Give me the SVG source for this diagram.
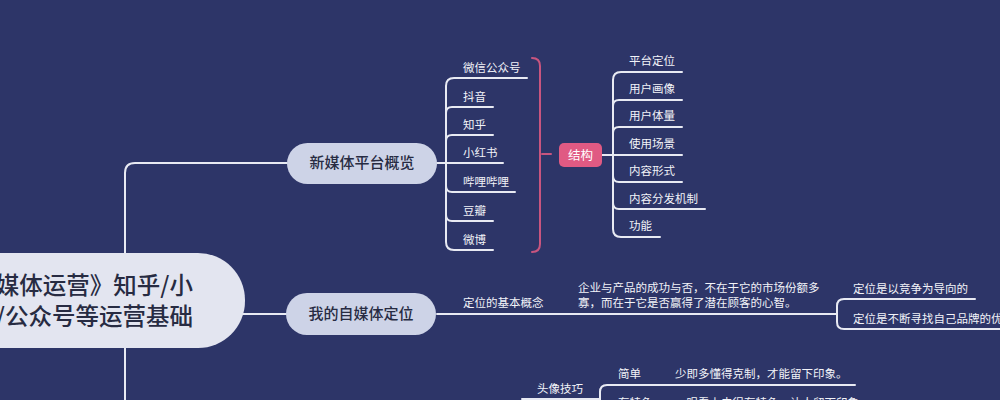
<svg xmlns="http://www.w3.org/2000/svg" width="1000" height="400" viewBox="0 0 1000 400">
<style>
.bg{fill:#2d3568}
.ln{fill:none;stroke:#e8eaf3;stroke-width:2;stroke-linecap:round}
.pk{fill:none;stroke:#c9557f;stroke-width:2;stroke-linecap:round}
.t{font-family:"Noto Sans CJK SC","Noto Sans",sans-serif;font-size:11.5px;fill:#f2f3f8}
.n1{fill:#cdd3e7}
.n1t{font-family:"Noto Sans CJK SC","Noto Sans",sans-serif;font-size:15px;fill:#272b42;text-anchor:middle;font-weight:500}
.rt{font-family:"Noto Sans CJK SC","Noto Sans",sans-serif;font-size:23.5px;fill:#272b42;text-anchor:end;font-weight:500}
</style>
<rect class="bg" x="0" y="0" width="1000" height="400"/>
<g id="connectors">
<path class="ln" d="M125,401 V173 Q125,163 135,163 H287"/>
<path class="ln" d="M240,314 H287"/>
<path class="ln" d="M437,163 H446"/>
<path class="ln" d="M446,163 V86 Q446,78 454,78 H527"/>
<path class="ln" d="M446,163 V113 Q446,107 452,107 H493"/>
<path class="ln" d="M446,163 V141 Q446,135 452,135 H493"/>
<path class="ln" d="M446,163 H503"/>
<path class="ln" d="M446,163 V186 Q446,192 452,192 H515"/>
<path class="ln" d="M446,163 V215 Q446,221 452,221 H493"/>
<path class="ln" d="M446,163 V242 Q446,250 454,250 H493"/>
<path class="pk" d="M532,58 Q540,58 540,66 V244 Q540,252 532,252"/>
<path class="pk" d="M542,154 H551"/>
<path class="ln" d="M602,155 H613"/>
<path class="ln" d="M613,155 V80 Q613,72 621,72 H682"/>
<path class="ln" d="M613,155 V106 Q613,100 619,100 H682"/>
<path class="ln" d="M613,155 V133 Q613,127 619,127 H682"/>
<path class="ln" d="M613,155 H682"/>
<path class="ln" d="M613,155 V176 Q613,182 619,182 H682"/>
<path class="ln" d="M613,155 V203 Q613,209 619,209 H705"/>
<path class="ln" d="M613,155 V229 Q613,237 621,237 H660"/>
<path class="ln" d="M437,314 H837"/>
<path class="ln" d="M837,314 V306 Q837,299 844,299 H975"/>
<path class="ln" d="M837,314 V322 Q837,329 844,329 H1001"/>
<path class="ln" d="M522,399 H600"/>
<path class="ln" d="M600,402 V392 Q600,385 607,385 H855"/>
</g>
<g id="root">
<rect x="-100" y="253" width="345" height="95" rx="47" fill="#e3e5f0"/>
<text class="rt" x="193" y="294">《新媒体运营》知乎/小</text>
<text class="rt" x="193" y="325">红书/公众号等运营基础</text>
</g>
<g id="node-platform">
<rect class="n1" x="287" y="143" width="150" height="41" rx="20.5"/>
<text class="n1t" x="362" y="168">新媒体平台概览</text>
</g>
<g id="platform-items">
<text class="t" x="463" y="72">微信公众号</text>
<text class="t" x="463" y="101">抖音</text>
<text class="t" x="463" y="129">知乎</text>
<text class="t" x="463" y="157">小红书</text>
<text class="t" x="463" y="186">哔哩哔哩</text>
<text class="t" x="463" y="215">豆瓣</text>
<text class="t" x="463" y="244">微博</text>
</g>
<g id="node-structure">
<rect x="559" y="143" width="43" height="24" rx="5" fill="#e05a83"/>
<text class="t" x="580.5" y="159.5" text-anchor="middle" style="font-size:12.5px;fill:#fff">结构</text>
</g>
<g id="structure-items">
<text class="t" x="629" y="65">平台定位</text>
<text class="t" x="629" y="93">用户画像</text>
<text class="t" x="629" y="120">用户体量</text>
<text class="t" x="629" y="148">使用场景</text>
<text class="t" x="629" y="175">内容形式</text>
<text class="t" x="629" y="203">内容分发机制</text>
<text class="t" x="629" y="230">功能</text>
</g>
<g id="node-position">
<rect class="n1" x="286" y="293" width="150" height="42" rx="21"/>
<text class="n1t" x="361" y="319">我的自媒体定位</text>
</g>
<g id="position-items">
<text class="t" x="463" y="307">定位的基本概念</text>
<text class="t" x="578" y="292">企业与产品的成功与否，不在于它的市场份额多</text>
<text class="t" x="578" y="307">寡，而在于它是否赢得了潜在顾客的心智。</text>
<text class="t" x="853" y="293">定位是以竞争为导向的</text>
<text class="t" x="853" y="323">定位是不断寻找自己品牌的优势</text>
</g>
<g id="avatar">
<text class="t" x="537" y="393">头像技巧</text>
<text class="t" x="618" y="378">简单</text>
<text class="t" x="675" y="378">少即多懂得克制，才能留下印象。</text>
<text class="t" x="618" y="407">有特色</text>
<text class="t" x="675" y="407">一眼看上去很有特色，让人留下印象。</text>
</g>
</svg>
